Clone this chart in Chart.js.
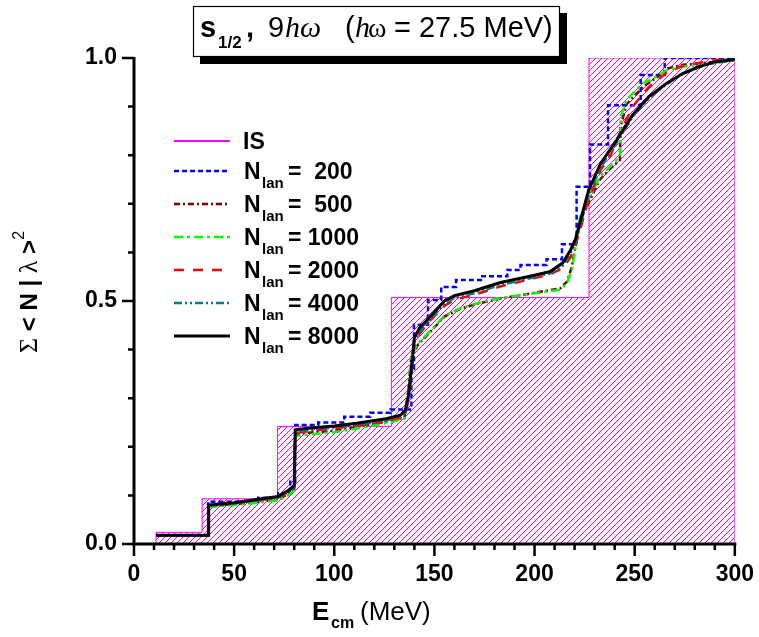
<!DOCTYPE html>
<html>
<head>
<meta charset="utf-8">
<script src="https://cdn.jsdelivr.net/npm/chart.js@4.4.1/dist/chart.umd.min.js"></script>
<style>
  body { margin: 0; background: #fff; }
  canvas { display: block; }
</style>
</head>
<body>
<canvas id="c" width="759" height="637"></canvas>
<script>
// IS histogram (strength collected in bins)
const isE = [11, 11, 34, 71.7, 128.5, 227.2, 300, 300];
const isS = [0, 0.024, 0.093, 0.242, 0.507, 1.0, 1.0, 0];

// N_lan = 200 (stepped)
const e200 = [11, 37, 62, 72, 78, 80.5, 92, 105, 118, 128, 138.5, 139.8, 146.8, 153.4, 160.8, 173.2, 186.4, 193, 206, 213.7, 221, 227.7, 236.7, 253, 265, 300];
const s200 = [0.018, 0.087, 0.095, 0.105, 0.128, 0.245, 0.25, 0.262, 0.27, 0.277, 0.36, 0.451, 0.502, 0.529, 0.543, 0.551, 0.564, 0.574, 0.586, 0.617, 0.735, 0.822, 0.903, 0.965, 1.0, 1.0];

// N_lan = 500 and 1000 share the energy grid
const eLow = [11, 37, 37.3, 50, 62, 72, 77, 80, 80.5, 87, 100, 112, 125, 135, 136.5, 138.5, 141.8, 148.3, 155, 163, 171, 183, 200, 212.8, 216.2, 218.6, 220.3, 222.8, 227.7, 232.7, 237.7, 242.6, 243, 246, 254, 261, 266, 274, 290, 300];
const s500 = [0.017, 0.017, 0.078, 0.082, 0.087, 0.092, 0.103, 0.113, 0.226, 0.229, 0.233, 0.241, 0.251, 0.26, 0.3, 0.385, 0.41, 0.438, 0.468, 0.484, 0.494, 0.505, 0.517, 0.526, 0.54, 0.57, 0.61, 0.665, 0.708, 0.75, 0.772, 0.79, 0.86, 0.905, 0.94, 0.96, 0.978, 0.986, 0.992, 0.997];
const s1000 = [0.018, 0.018, 0.076, 0.08, 0.085, 0.09, 0.1, 0.11, 0.222, 0.225, 0.23, 0.238, 0.248, 0.258, 0.3, 0.39, 0.413, 0.44, 0.47, 0.485, 0.495, 0.506, 0.516, 0.523, 0.536, 0.564, 0.605, 0.673, 0.715, 0.756, 0.776, 0.797, 0.879, 0.914, 0.948, 0.962, 0.975, 0.982, 0.989, 0.995];

// N_lan = 2000
const e2000 = [11, 37, 37.3, 50, 62, 72, 77, 80, 80.5, 87, 100, 112, 125, 133, 135.5, 137, 138.5, 140, 142.5, 148, 155, 160, 170, 183, 200, 208, 214, 218, 220.5, 223, 227, 233, 238, 242, 249, 257, 266, 274, 282, 290, 300];
const s2000 = [0.017, 0.017, 0.079, 0.084, 0.09, 0.095, 0.106, 0.116, 0.228, 0.232, 0.238, 0.244, 0.252, 0.26, 0.268, 0.295, 0.345, 0.41, 0.432, 0.46, 0.49, 0.503, 0.513, 0.53, 0.547, 0.555, 0.568, 0.59, 0.615, 0.65, 0.71, 0.77, 0.8, 0.84, 0.9, 0.94, 0.97, 0.984, 0.99, 0.995, 0.998];

// N_lan = 4000 and 8000 share the energy grid
const eHigh = [11, 37, 37.3, 50, 62, 72, 77, 80, 80.5, 87, 100, 112, 125, 133, 135.5, 137, 138.5, 140, 142.5, 148, 155, 160, 170, 183, 200, 208, 214, 218, 220.5, 223, 227, 233, 241, 249, 257, 266, 274, 282, 290, 300];
const s4000 = [0.017, 0.017, 0.078, 0.083, 0.09, 0.096, 0.107, 0.117, 0.23, 0.234, 0.24, 0.245, 0.253, 0.262, 0.27, 0.3, 0.35, 0.415, 0.436, 0.462, 0.494, 0.506, 0.516, 0.533, 0.549, 0.557, 0.572, 0.598, 0.62, 0.658, 0.718, 0.775, 0.826, 0.879, 0.917, 0.946, 0.967, 0.981, 0.991, 0.997];
const s8000 = [0.018, 0.018, 0.08, 0.085, 0.092, 0.098, 0.11, 0.12, 0.235, 0.238, 0.243, 0.249, 0.257, 0.265, 0.275, 0.305, 0.36, 0.425, 0.444, 0.468, 0.5, 0.511, 0.521, 0.538, 0.553, 0.561, 0.578, 0.605, 0.628, 0.667, 0.728, 0.783, 0.831, 0.883, 0.92, 0.948, 0.968, 0.982, 0.992, 0.997];

const legendNums = ['=  200', '=  500', '= 1000', '= 2000', '= 4000', '= 8000'];

const SANS = '"Liberation Sans", Arial, sans-serif';
const SERIF = '"Liberation Serif", "DejaVu Serif", serif';

const pts = (e, s) => e.map((v, i) => ({ x: v, y: s[i] }));

// hatch pattern: crisp 1px magenta diagonal on a transparent 6x6 tile
const T = 6;
const pc = document.createElement('canvas');
pc.width = T; pc.height = T;
const pctx = pc.getContext('2d');
const img = pctx.createImageData(T, T);
for (let i = 0; i < T; i++) {
  const k = ((T - 1 - i) * T + i) * 4;
  img.data[k] = 255; img.data[k + 1] = 0; img.data[k + 2] = 255; img.data[k + 3] = 255;
}
pctx.putImageData(img, 0, 0);
const canvas = document.getElementById('c');
const hatch = canvas.getContext('2d').createPattern(pc, 'repeat');

const series = [
  { label: '8000', data: pts(eHigh, s8000), borderColor: '#000000', borderWidth: 3, borderDash: [] },
  { label: '4000', data: pts(eHigh, s4000), borderColor: '#008080', borderWidth: 2.5, borderDash: [8, 3, 2, 3, 2, 3] },
  { label: '2000', data: pts(e2000, s2000), borderColor: '#ff0000', borderWidth: 2.5, borderDash: [10, 9] },
  { label: '1000', data: pts(eLow, s1000), borderColor: '#00ff00', borderWidth: 2.5, borderDash: [9, 4, 3, 4] },
  { label: '500', data: pts(eLow, s500), borderColor: '#800000', borderWidth: 2.5, borderDash: [6, 3, 2, 3] },
  { label: '200', data: pts(e200, s200), borderColor: '#0000ff', borderWidth: 2.5, borderDash: [5, 3], stepped: true },
  { label: 'IS', data: pts(isE, isS), borderColor: '#ff00ff', borderWidth: 1, borderDash: [], stepped: true, fill: 'origin', backgroundColor: hatch }
];

const decor = {
  id: 'decor',
  afterDatasetsDraw(chart) {
    const ctx = chart.ctx;
    const xs = chart.scales.x, ys = chart.scales.y;
    const x0 = xs.getPixelForValue(0), x1 = xs.getPixelForValue(300);
    const y0 = ys.getPixelForValue(0), y1 = ys.getPixelForValue(1);
    ctx.save();
    ctx.strokeStyle = '#000';
    ctx.lineCap = 'butt';
    ctx.lineWidth = 2.5;
    ctx.beginPath();
    for (let v = 0; v <= 300; v += 10) {
      const p = xs.getPixelForValue(v);
      ctx.moveTo(p, y0);
      ctx.lineTo(p, y0 + (v % 50 === 0 ? 12 : 6));
    }
    for (let k = 0; k <= 10; k++) {
      const p = ys.getPixelForValue(k / 10);
      ctx.moveTo(x0, p);
      ctx.lineTo(x0 - (k % 5 === 0 ? 12 : 6), p);
    }
    ctx.stroke();
    ctx.lineWidth = 3;
    ctx.beginPath();
    ctx.moveTo(x0, y1 - 1);
    ctx.lineTo(x0, y0 + 1.5);
    ctx.moveTo(x0 - 1.5, y0);
    ctx.lineTo(x1 + 1.5, y0);
    ctx.stroke();
    ctx.restore();
  },
  afterDraw(chart) {
    const ctx = chart.ctx;
    ctx.save();
    ctx.fillStyle = '#000';
    ctx.textBaseline = 'alphabetic';

    // title box with shadow
    ctx.fillRect(200, 13, 367, 51);
    ctx.fillStyle = '#fff';
    ctx.fillRect(193, 6, 367, 51);
    ctx.strokeStyle = '#000';
    ctx.lineWidth = 1.2;
    ctx.strokeRect(193.5, 6.5, 366, 50);
    ctx.fillStyle = '#000';
    ctx.font = 'bold 29px ' + SANS; ctx.fillText('s', 200, 37);
    ctx.font = 'bold 17px ' + SANS; ctx.fillText('1/2', 218, 48);
    ctx.font = 'bold 29px ' + SANS; ctx.fillText(',', 246, 37);
    ctx.font = '29px ' + SANS; ctx.fillText('9', 268, 37);
    ctx.font = 'italic 30px ' + SERIF; ctx.fillText('hω', 285, 37);
    ctx.font = '29px ' + SANS; ctx.fillText('(', 345, 37);
    ctx.font = 'italic 30px ' + SERIF; ctx.fillText('h', 355, 37);
    ctx.font = '28px ' + SERIF; ctx.fillText('ω', 368, 37);
    ctx.font = '29px ' + SANS; ctx.fillText('= 27.5 MeV)', 394, 37);

    // legend
    const rows = [141, 171, 204, 237, 270, 303, 336];
    const order = [6, 5, 4, 3, 2, 1, 0];
    order.forEach((di, r) => {
      const ds = chart.data.datasets[di];
      const y = rows[r];
      ctx.save();
      ctx.strokeStyle = ds.borderColor;
      ctx.lineWidth = di === 6 ? 2 : ds.borderWidth;
      ctx.setLineDash(ds.borderDash || []);
      ctx.beginPath();
      ctx.moveTo(174, y);
      ctx.lineTo(230, y);
      ctx.stroke();
      ctx.restore();
      if (di === 6) {
        ctx.font = 'bold 23px ' + SANS;
        ctx.fillText('IS', 243, y + 8);
      } else {
        ctx.font = 'bold 23px ' + SANS;
        ctx.fillText('N', 244, y + 8);
        ctx.font = 'bold 15px ' + SANS;
        ctx.fillText('lan', 262, y + 17);
        ctx.font = 'bold 23px ' + SANS;
        ctx.fillText(legendNums[r - 1], 288, y + 8);
      }
    });

    // y axis title (rotated)
    const yparts = [
      ['Σ', '26px ' + SERIF, 0],
      [' < ', 'bold 24px ' + SANS, 0],
      ['N', 'bold 24px ' + SANS, 0],
      [' | ', 'bold 24px ' + SANS, 0],
      ['λ', '26px ' + SERIF, 0],
      [' >', 'bold 24px ' + SANS, 0],
      ['2', '16px ' + SANS, -13]
    ];
    let tot = 0;
    yparts.forEach(p => { ctx.font = p[1]; tot += ctx.measureText(p[0]).width; });
    ctx.save();
    ctx.translate(37, 292 + tot / 2);
    ctx.rotate(-Math.PI / 2);
    let u = 0;
    yparts.forEach(p => { ctx.font = p[1]; ctx.fillText(p[0], u, p[2]); u += ctx.measureText(p[0]).width; });
    ctx.restore();

    // x axis title
    ctx.font = 'bold 26px ' + SANS; ctx.fillText('E', 312, 620);
    ctx.font = 'bold 16px ' + SANS; ctx.fillText('cm', 331, 628);
    ctx.font = '26px ' + SANS; ctx.fillText('(MeV)', 360, 620);
    ctx.restore();
  }
};

new Chart(canvas, {
  type: 'line',
  data: {
    datasets: series.map(s => Object.assign({
      pointRadius: 0,
      tension: 0,
      fill: false,
      borderCapStyle: 'butt'
    }, s))
  },
  options: {
    responsive: false,
    animation: false,
    layout: { padding: { top: 58, right: 20, left: 0, bottom: 0 } },
    scales: {
      x: {
        type: 'linear', min: 0, max: 300,
        ticks: { stepSize: 50, color: '#000', padding: 5, font: { family: SANS, size: 23, weight: 'bold' } },
        grid: { drawOnChartArea: false, tickLength: 12, tickColor: 'rgba(0,0,0,0)' },
        border: { display: false },
        afterFit: s => { s.height = 93; }
      },
      y: {
        type: 'linear', min: 0, max: 1,
        ticks: { stepSize: 0.5, color: '#000', padding: 5, callback: v => v.toFixed(1), font: { family: SANS, size: 23, weight: 'bold' } },
        grid: { drawOnChartArea: false, tickLength: 12, tickColor: 'rgba(0,0,0,0)' },
        border: { display: false },
        afterFit: s => { s.width = 134; }
      }
    },
    plugins: { legend: { display: false }, tooltip: { enabled: false } }
  },
  plugins: [decor]
});
</script>
</body>
</html>
